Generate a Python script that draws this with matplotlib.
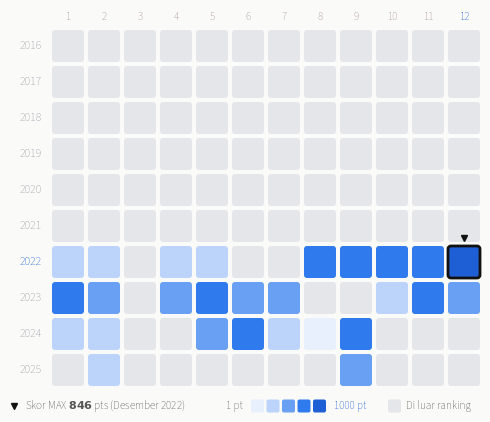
import matplotlib.pyplot as plt
from matplotlib.patches import FancyBboxPatch

plt.rcParams['font.family'] = ['Source Sans 3', 'Open Sans', 'DejaVu Sans']

years = [2016, 2017, 2018, 2019, 2020, 2021, 2022, 2023, 2024, 2025]
months = list(range(1, 13))
# level per cell: -1 = outside ranking, 0..4 = score bucket
levels = {
    2022: [1, 1, -1, 1, 1, -1, -1, 3, 3, 3, 3, 4],
    2023: [3, 2, -1, 2, 3, 2, 2, -1, -1, 1, 3, 2],
    2024: [1, 1, -1, -1, 2, 3, 1, 0, 3, -1, -1, -1],
    2025: [-1, 1, -1, -1, -1, -1, -1, -1, 2, -1, -1, -1],
}
max_year, max_month, max_score = 2022, 12, 846

palette = ['#e8effd', '#bcd3fa', '#6aa0f3', '#2f7bed', '#1f5fd6']
gray = '#e5e6ea'
blue = '#1f5fd6'
bg = '#fafaf8'

fig = plt.figure(figsize=(4.9, 4.22), dpi=100, facecolor=bg)
ax = fig.add_axes([0, 0, 1, 1])
ax.set_xlim(0, 490)
ax.set_ylim(422, 0)
ax.axis('off')

x0, y0, pitch, size = 52, 30, 36, 32

for m in months:
    hi = m == max_month
    ax.text(x0 + (m - 1) * pitch + size / 2, 17, str(m), ha='center', va='center', fontsize=8,
            color=blue if hi else '#a89590', fontweight='bold' if hi else 'normal')

for r, yr in enumerate(years):
    hi = yr == max_year
    yc = y0 + r * pitch
    ax.text(42, yc + size / 2, str(yr), ha='right', va='center', fontsize=8.5,
            color=blue if hi else '#9a9aa6', fontweight='bold' if hi else 'normal')
    row = levels.get(yr, [-1] * 12)
    for c, lv in enumerate(row):
        xc = x0 + c * pitch
        col = gray if lv < 0 else palette[lv]
        is_max = hi and months[c] == max_month
        ax.add_patch(FancyBboxPatch((xc, yc), size, size, boxstyle='round,pad=0,rounding_size=3',
                                    fc=col, ec='#111111' if is_max else 'none',
                                    lw=2 if is_max else 0))
        if is_max:
            ax.plot(xc + size / 2, yc - 8, marker='v', color='#111111', ms=5)

# legend
ly = 406
ax.plot(14, ly, marker='v', color='#111111', ms=5)
ax.text(25, ly, 'Skor MAX ', ha='left', va='center', fontsize=8, color='#555555')
t = ax.text(25, ly, 'Skor MAX $\\bf{' + str(max_score) + '}$ pts (Desember 2022)', ha='left', va='center',
            fontsize=8, color='#555555')
ax.texts[-2].remove()
ax.text(226, ly, '1 pt', ha='left', va='center', fontsize=8, color='#666666')
for i, col in enumerate(palette):
    ax.add_patch(FancyBboxPatch((251 + i * 15.5, ly - 6.5), 13, 13,
                                boxstyle='round,pad=0,rounding_size=2', fc=col, ec='none'))
ax.text(334, ly, '1000 pt', ha='left', va='center', fontsize=8, color=blue, fontweight='bold')
ax.add_patch(FancyBboxPatch((388, ly - 6.5), 13, 13, boxstyle='round,pad=0,rounding_size=2', fc=gray, ec='none'))
ax.text(406, ly, 'Di luar ranking', ha='left', va='center', fontsize=8, color='#555555')

fig.savefig('out.png', dpi=100, facecolor=bg)
